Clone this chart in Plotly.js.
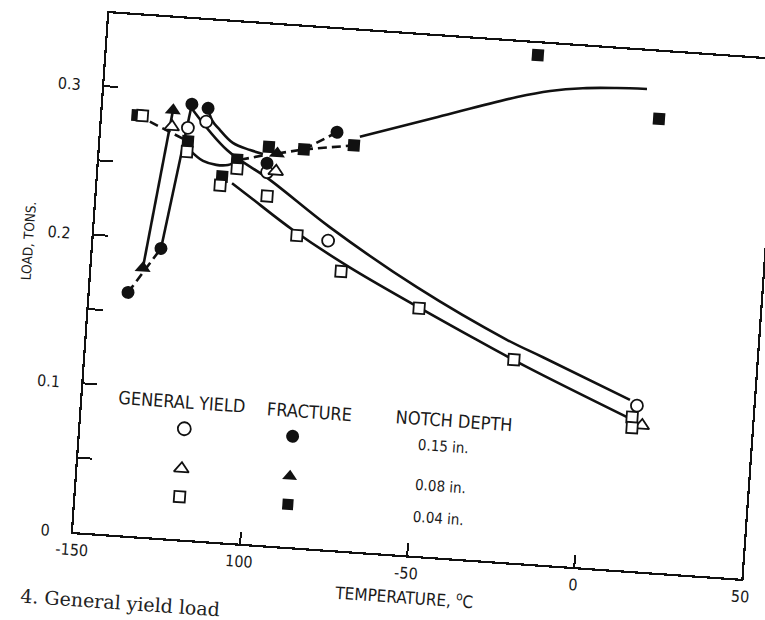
<!DOCTYPE html>
<html>
<head>
<meta charset="utf-8">
<script src="https://cdn.plot.ly/plotly-3.0.1.min.js"></script>
<style>
html,body{margin:0;padding:0;background:#fff;overflow:hidden;}
#chart{width:765px;height:620px;transform:rotate(4deg);transform-origin:73px 532px;}
</style>
</head>
<body>
<div id="chart"></div>
<script>
// ---------- measured points (temperature in deg C, load in tons) ----------
const fracture015Temp = [-138.6, -129.7, -123.5, -118.6, -99.9, -79.7];
const fracture015Load = [0.163, 0.194, 0.292, 0.290, 0.256, 0.280];
const fracture008Temp = [-134.7, -129.0, -97.1];
const fracture008Load = [0.180, 0.287, 0.263];
const fracture004Temp = [-139.5, -123.9, -113.0, -108.9, -99.7, -89.2, -74.4, -21.5, 15.9];
const fracture004Load = [0.282, 0.267, 0.245, 0.257, 0.267, 0.267, 0.272, 0.341, 0.304];
const yield015Temp = [-124.2, -118.9, -99.7, -80.1, 15.3];
const yield015Load = [0.276, 0.281, 0.250, 0.207, 0.111];
const yield008Temp = [-129.0, -97.1, 17.2];
const yield008Load = [0.276, 0.251, 0.098];
const yield004Temp = [-138.0, -124.0, -113.4, -108.7, -99.2, -89.5, -75.6, -51.6, -22.3, 14.1, 14.3];
const yield004Load = [0.282, 0.260, 0.239, 0.251, 0.234, 0.209, 0.187, 0.166, 0.136, 0.103, 0.096];

// ---------- hand-drawn curves ----------
const riseDash015Temp = [-138.6, -129.7];
const riseDash015Load = [0.163, 0.194];
const rise015Temp = [-129.7, -123.5];
const rise015Load = [0.194, 0.292];
const rise008Temp = [-134.7, -129.0];
const rise008Load = [0.180, 0.287];
const dash004Temp = [-139.5, -123.9];
const dash004Load = [0.282, 0.267];
const dipTemp = [-123.1, -119.0, -115.0, -111.5, -108.0];
const dipLoad = [0.261, 0.2545, 0.2525, 0.253, 0.257];
const dipDashTemp = [-108.0, -101.3];
const dipDashLoad = [0.257, 0.261];
const dropTemp = [-118.6, -117.2, -114.6, -110.5, -105.2, -101.3];
const dropLoad = [0.290, 0.2823, 0.276, 0.268, 0.264, 0.262];
const yieldUpperTemp = [-123.4, -112.1, -98.7, -79.8, -52.7, -24.8, -13.7, 13.1];
const yieldUpperLoad = [0.289, 0.263, 0.245, 0.216, 0.180, 0.149, 0.139, 0.1145];
const yieldLowerTemp = [-109.9, -104.3, -90.8, -73.0, -33.7, -18.2, 12.6];
const yieldLowerLoad = [0.241, 0.2326, 0.2125, 0.190, 0.1475, 0.1317, 0.1029];
const linkATemp = [-97.1, -89.2];
const linkALoad = [0.263, 0.267];
const linkBTemp = [-89.2, -79.7];
const linkBLoad = [0.267, 0.280];
const linkCTemp = [-89.2, -74.4];
const linkCLoad = [0.267, 0.272];
const plateauTemp = [-72.8, -50.0, -26.8, -17.1, -7.4, 2.7, 11.7];
const plateauLoad = [0.278, 0.295, 0.312, 0.3176, 0.321, 0.3227, 0.3235];

// ---------- axis ticks and texts ----------
const xTickVals = [-150, -100, -50, 0, 50];
const xTickText = ['-150', '100', '-50', '0', '50'];
const yTickVals = [0, 0.05, 0.1, 0.15, 0.2, 0.25, 0.3];
const yTickText = ['0', '', '0.1', '', '0.2', '', '0.3'];
const xTitle = 'TEMPERATURE, <sup>o</sup>C';
const yTitle = 'LOAD, TONS.';
const caption = '4. General yield load';

// ---------- legend ----------
const legendHeaders = ['GENERAL YIELD', 'FRACTURE', 'NOTCH DEPTH'];
const notchDepths = ['0.15 in.', '0.08 in.', '0.04 in.'];
const symbolsByRow = ['circle', 'triangle-up', 'square'];

const INK = '#111';
const TXT = '#1a1a1a';
const NARROW = '"Liberation Sans Narrow", "Arial Narrow", "DejaVu Sans Condensed", sans-serif';

function curve(x, y, dash, spline) {
  return {x: x, y: y, mode: 'lines', type: 'scatter', hoverinfo: 'skip',
    line: {color: INK, width: 2.6, dash: dash ? '9px,5px' : 'solid', shape: spline ? 'spline' : 'linear', smoothing: 1}};
}
function pts(x, y, symbol, filled, size) {
  return {x: x, y: y, mode: 'markers', type: 'scatter',
    marker: {symbol: symbol, size: size, color: filled ? INK : '#fff',
      line: {color: INK, width: filled ? 0 : 1.8}}};
}

const traces = [
  curve(riseDash015Temp, riseDash015Load, true, false),
  curve(rise015Temp, rise015Load, false, false),
  curve(rise008Temp, rise008Load, false, false),
  curve(dash004Temp, dash004Load, true, false),
  curve(dipTemp, dipLoad, false, true),
  curve(dipDashTemp, dipDashLoad, true, false),
  curve(dropTemp, dropLoad, false, true),
  curve(yieldUpperTemp, yieldUpperLoad, false, true),
  curve(yieldLowerTemp, yieldLowerLoad, false, true),
  curve(linkATemp, linkALoad, true, false),
  curve(linkBTemp, linkBLoad, true, false),
  curve(linkCTemp, linkCLoad, true, false),
  curve(plateauTemp, plateauLoad, false, true),
  pts(yield015Temp, yield015Load, 'circle', false, 12),
  pts(yield008Temp, yield008Load, 'triangle-up', false, 13),
  pts(fracture015Temp, fracture015Load, 'circle', true, 13),
  pts(fracture008Temp, fracture008Load, 'triangle-up', true, 14),
  pts(fracture004Temp, fracture004Load, 'square', true, 12),
  pts(yield004Temp, yield004Load, 'square', false, 11)
];

// legend symbols on an invisible overlay axis (fractions of the plot area)
const legendColX = [0.155, 0.317];
const legendRowY = [0.213, 0.136, 0.082];
symbolsByRow.forEach(function (sym, i) {
  [false, true].forEach(function (filled, j) {
    const t = pts([legendColX[j]], [legendRowY[i]], sym, filled, sym === 'square' ? 11 : 13);
    t.xaxis = 'x2'; t.yaxis = 'y2';
    traces.push(t);
  });
});

const annotations = [
  {text: legendHeaders[0], x: 0.1487, y: 0.264},
  {text: legendHeaders[1], x: 0.3389, y: 0.2619},
  {text: legendHeaders[2], x: 0.5557, y: 0.2641}
].map(function (a) {
  return Object.assign(a, {xref: 'paper', yref: 'paper', showarrow: false,
    xanchor: 'center', yanchor: 'middle', font: {family: NARROW, size: 18, color: TXT}});
}).concat([0.2127, 0.1375, 0.0758].map(function (yy, i) {
  return {text: notchDepths[i], x: 0.542, y: yy, xref: 'paper', yref: 'paper', showarrow: false,
    xanchor: 'center', yanchor: 'middle', font: {family: NARROW, size: 15, color: TXT}};
}));
// y-axis title placed where the figure has it (slightly above the axis middle)
annotations.push({text: yTitle, x: -0.097, y: 0.552, xref: 'paper', yref: 'paper', textangle: -90,
  showarrow: false, xanchor: 'center', yanchor: 'middle', font: {family: NARROW, size: 13.5, color: TXT}});
annotations.push({text: caption, x: -0.075, y: -0.128, xref: 'paper', yref: 'paper',
  showarrow: false, xanchor: 'left', yanchor: 'middle',
  font: {family: '"DejaVu Serif", "Liberation Serif", serif', size: 19, color: '#222'}});

const axisCommon = {
  showline: true, linewidth: 2.2, linecolor: INK, mirror: true,
  showgrid: false, zeroline: false, ticks: 'inside', tickwidth: 2, tickcolor: INK,
  tickfont: {family: NARROW, size: 16, color: TXT}, automargin: false, fixedrange: true
};

const layout = {
  width: 765, height: 620,
  margin: {l: 73, r: 22, t: 12, b: 88, pad: 0},
  paper_bgcolor: '#fff', plot_bgcolor: '#fff',
  showlegend: false,
  xaxis: Object.assign({}, axisCommon, {
    range: [-150, 50], tickmode: 'array', tickvals: xTickVals, ticktext: xTickText,
    ticklen: 12, ticklabelstandoff: 2,
    title: {text: xTitle, standoff: 10, font: {family: NARROW, size: 17, color: TXT}}
  }),
  yaxis: Object.assign({}, axisCommon, {
    range: [0, 0.349], tickmode: 'array', tickvals: yTickVals, ticktext: yTickText,
    ticklen: 14, ticklabelstandoff: 18
  }),
  xaxis2: {overlaying: 'x', range: [0, 1], visible: false, fixedrange: true},
  yaxis2: {overlaying: 'y', range: [0, 1], visible: false, fixedrange: true},
  annotations: annotations
};

Plotly.newPlot('chart', traces, layout, {displayModeBar: false, staticPlot: true});
</script>
</body>
</html>
